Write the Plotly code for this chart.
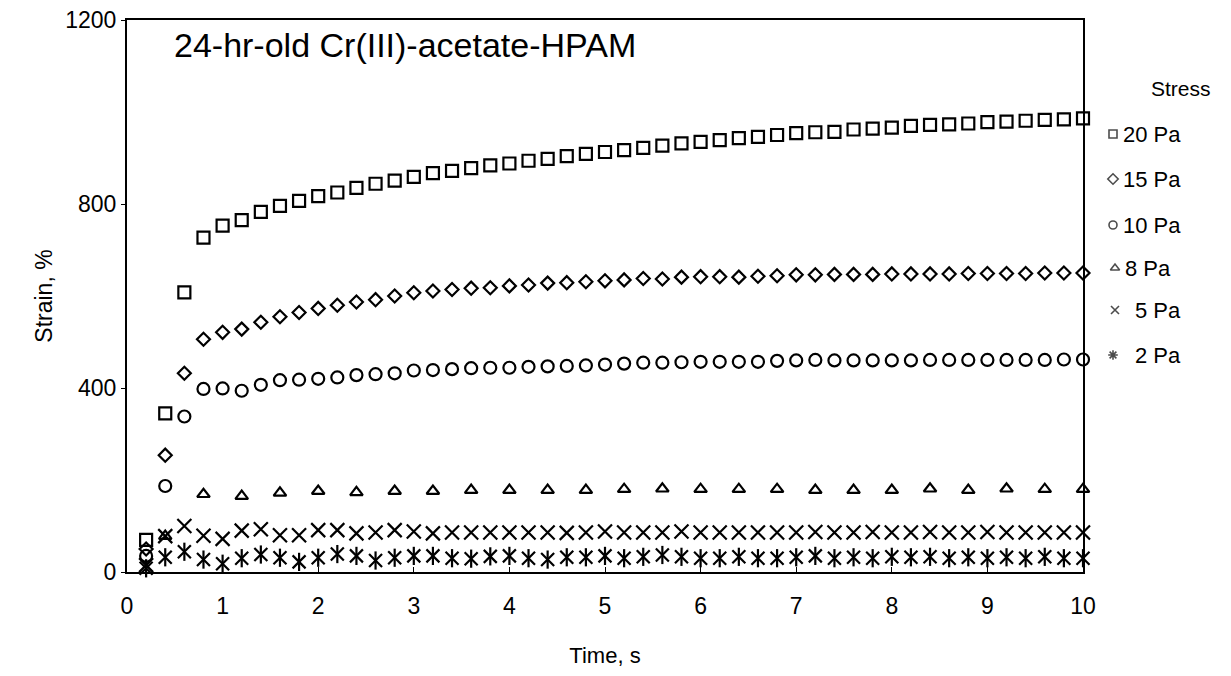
import plotly.graph_objects as go

# Creep test time points (s)
time_s = [0.2, 0.4, 0.6, 0.8, 1.0, 1.2, 1.4, 1.6, 1.8, 2.0,
          2.2, 2.4, 2.6, 2.8, 3.0, 3.2, 3.4, 3.6, 3.8, 4.0,
          4.2, 4.4, 4.6, 4.8, 5.0, 5.2, 5.4, 5.6, 5.8, 6.0,
          6.2, 6.4, 6.6, 6.8, 7.0, 7.2, 7.4, 7.6, 7.8, 8.0,
          8.2, 8.4, 8.6, 8.8, 9.0, 9.2, 9.4, 9.6, 9.8, 10.0]

# 8 Pa was sampled every 0.4 s
time_8pa = [0.4, 0.8, 1.2, 1.6, 2.0, 2.4, 2.8, 3.2, 3.6, 4.0,
            4.4, 4.8, 5.2, 5.6, 6.0, 6.4, 6.8, 7.2, 7.6, 8.0,
            8.4, 8.8, 9.2, 9.6, 10.0]

# Strain (%) for each applied stress
strain_20pa = [70, 345, 608, 727, 753, 765, 783, 796, 807, 817,
               825, 835, 844, 851, 859, 867, 872, 878, 884, 888,
               894, 898, 904, 909, 913, 917, 922, 927, 932, 935,
               939, 943, 946, 950, 954, 956, 957, 962, 964, 966,
               970, 972, 973, 975, 978, 979, 981, 983, 984, 986]

strain_15pa = [50, 254, 432, 506, 521, 528, 543, 555, 564, 573,
               580, 587, 592, 600, 607, 611, 614, 617, 618, 622,
               624, 628, 629, 631, 633, 635, 638, 637, 641, 642,
               642, 641, 643, 644, 646, 646, 647, 647, 647, 648,
               648, 648, 648, 649, 649, 649, 649, 650, 650, 650]

strain_10pa = [35, 187, 338, 398, 399, 394, 407, 417, 418, 420,
               423, 428, 430, 432, 438, 439, 441, 443, 444, 444,
               446, 447, 448, 449, 451, 453, 455, 455, 456, 457,
               457, 457, 457, 459, 460, 461, 460, 460, 460, 460,
               460, 461, 461, 461, 461, 461, 461, 461, 462, 462]

strain_8pa = [78, 169, 165, 172, 176, 173, 176, 176, 178, 178,
              178, 178, 180, 181, 180, 180, 180, 178, 178, 178,
              181, 178, 181, 180, 180]

strain_5pa = [15, 78, 100, 79, 72, 90, 93, 80, 80, 91,
              91, 84, 86, 91, 88, 84, 86, 86, 86, 86,
              86, 86, 85, 86, 88, 86, 86, 86, 88, 86,
              86, 86, 86, 86, 86, 87, 86, 86, 87, 86,
              86, 87, 86, 86, 87, 86, 86, 86, 86, 86]

strain_2pa = [8, 32, 44, 27, 18, 30, 38, 31, 22, 31,
              39, 35, 25, 31, 35, 35, 30, 29, 34, 35,
              30, 27, 32, 32, 35, 30, 33, 37, 33, 30,
              30, 33, 30, 30, 32, 35, 30, 32, 30, 33,
              32, 33, 30, 32, 30, 32, 30, 33, 30, 30]

stress_labels = ["20 Pa", "15 Pa", "10 Pa", "8 Pa", "5 Pa", "2 Pa"]

FONT = "Liberation Sans, Arial, sans-serif"
INK = "black"

# Page geometry (px): plot box spans x 127..1083, y 20..572
PAGE_W, PAGE_H = 1231, 676
M_L, M_T, M_B = 127, 20, 104
BOX_RIGHT = 1083
X_SPLIT = (BOX_RIGHT - M_L) / (PAGE_W - M_L)

fig = go.Figure()


def add_points(x, y, symbol, size, width=2.2):
    fig.add_trace(go.Scatter(
        x=x, y=y, mode="markers", showlegend=False, cliponaxis=False,
        marker=dict(symbol=symbol, size=size, color=INK,
                    line=dict(color=INK, width=width)),
    ))


add_points(time_s, strain_20pa, "square-open", 12)
add_points(time_s, strain_15pa, "diamond-open", 10)
add_points(time_s, strain_10pa, "circle-open", 12)
add_points(time_8pa, strain_8pa, "triangle-up-open", 11)
add_points(time_s, strain_5pa, "x-thin-open", 14)
# 2 Pa: crossed x with a vertical bar
add_points(time_s, strain_2pa, "x-thin-open", 13)
add_points(time_s, strain_2pa, "line-ns-open", 13)

# Key on the right, laid out on a hidden pixel-unit axis pair
key_symbols = ["square-open", "diamond-open", "circle-open",
               "triangle-up-open", "x-thin-open", "asterisk-open"]
key_sizes = [8, 8, 8, 8, 8, 8]
key_rows = [134, 179, 225, 268, 310, 355]
key_mark_x = [1113, 1113, 1113, 1115, 1115, 1113]
key_text_x = [1121, 1121, 1121, 1123, 1133, 1133]

fig.add_trace(go.Scatter(
    x=key_mark_x, y=key_rows, xaxis="x2", yaxis="y2",
    mode="markers", showlegend=False, hoverinfo="skip", cliponaxis=False,
    marker=dict(symbol=key_symbols, size=key_sizes, color=INK,
                line=dict(color=INK, width=1.6)),
))
for tx, ty, label in zip(key_text_x, key_rows, stress_labels):
    fig.add_annotation(
        text=label, xref="x2", yref="y2", x=tx, y=ty,
        xanchor="left", yanchor="middle", showarrow=False,
        font=dict(family=FONT, size=22, color=INK),
    )
fig.add_annotation(
    text="Stress", xref="x2", yref="y2", x=1181, y=88,
    xanchor="center", yanchor="middle", showarrow=False,
    font=dict(family=FONT, size=21, color=INK),
)

axis_common = dict(
    showline=True, linecolor=INK, linewidth=2, mirror=True,
    showgrid=False, zeroline=False, tickcolor=INK, automargin=False,
    tickfont=dict(family=FONT, size=23, color=INK),
)

fig.update_layout(
    xaxis=dict(
        domain=[0, X_SPLIT], range=[0, 10], dtick=1, tick0=0,
        ticks="inside", ticklen=5, ticklabelstandoff=12,
        title=dict(text="Time, s",
                   font=dict(family=FONT, size=22, color=INK), standoff=30),
        **axis_common,
    ),
    yaxis=dict(
        range=[0, 1200], dtick=400, tick0=0, ticks="outside", ticklen=4,
        title=dict(text="Strain, %",
                   font=dict(family=FONT, size=23, color=INK), standoff=6),
        **axis_common,
    ),
    xaxis2=dict(domain=[X_SPLIT, 1], range=[BOX_RIGHT, PAGE_W],
                anchor="y2", visible=False, fixedrange=True),
    yaxis2=dict(domain=[0, 1], range=[PAGE_H - M_B, M_T],
                anchor="x2", visible=False, fixedrange=True),
)

fig.add_annotation(
    text="24-hr-old Cr(III)-acetate-HPAM", xref="paper", yref="paper",
    x=(172 - M_L) / (PAGE_W - M_L), y=(572 - 45) / 552,
    xanchor="left", yanchor="middle", showarrow=False,
    font=dict(family=FONT, size=34, color=INK),
)

fig.update_layout(
    width=PAGE_W, height=PAGE_H,
    margin=dict(l=M_L, r=0, t=M_T, b=M_B, autoexpand=False),
    plot_bgcolor="white", paper_bgcolor="white",
    font=dict(family=FONT, color=INK),
    showlegend=False,
)

fig.write_html("out.html")
